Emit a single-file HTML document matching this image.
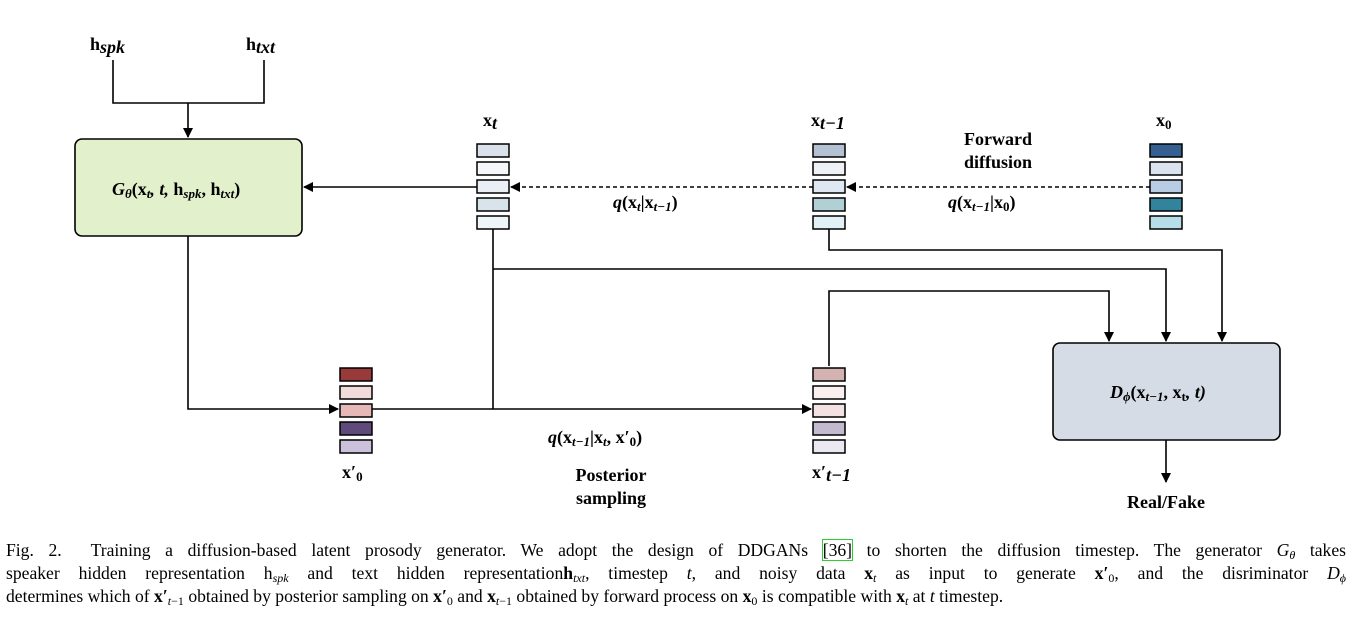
<!DOCTYPE html>
<html><head><meta charset="utf-8"><style>
html,body{margin:0;padding:0;background:#fff;}
body{position:relative;width:1352px;height:619px;overflow:hidden;}
svg{display:block;position:absolute;left:0;top:0;}
.b{font-family:"Liberation Serif",serif;font-weight:bold;font-size:18px;fill:#000;}
.bi{font-family:"Liberation Serif",serif;font-weight:bold;font-style:italic;font-size:18px;fill:#000;}
.cl{position:absolute;left:6px;width:1340px;font-family:"Liberation Serif",serif;font-size:17.6px;line-height:20px;white-space:nowrap;}
.j{text-align:justify;text-align-last:justify;white-space:normal;}
sub{font-size:12px;vertical-align:-3px;line-height:0;}
.ref{outline:1px solid #2ecc2e;}
</style></head><body>
<svg width="1352" height="619" viewBox="0 0 1352 619" xmlns="http://www.w3.org/2000/svg">
<defs>
<marker id="a" markerWidth="10" markerHeight="10" refX="9" refY="5" orient="auto" markerUnits="userSpaceOnUse">
<path d="M0,0 L10,5 L0,10 z" fill="#000"/></marker>
</defs>
<g stroke="#000" stroke-width="1.6" fill="none">
<path d="M113,60 V103 H264 V60"/>
<path d="M188,103 V137" marker-end="url(#a)"/>
<path d="M477,187 H304" marker-end="url(#a)"/>
<path d="M1150,187 H847" stroke-dasharray="4,3" marker-end="url(#a)"/>
<path d="M813,187 H511" stroke-dasharray="4,3" marker-end="url(#a)"/>
<path d="M829,229 V250 H1222 V341" marker-end="url(#a)"/>
<path d="M493,229 V409"/>
<path d="M493,269 H1166 V341" marker-end="url(#a)"/>
<path d="M829,366 V291 H1109 V341" marker-end="url(#a)"/>
<path d="M188,236 V409 H338" marker-end="url(#a)"/>
<path d="M372,409 H811" marker-end="url(#a)"/>
<path d="M1166,440 V482" marker-end="url(#a)"/>
</g>
<rect x="75" y="139" width="227" height="97" rx="7" fill="#e2f0cb" stroke="#000" stroke-width="1.6"/>
<rect x="1053" y="343" width="227" height="97" rx="7" fill="#d6dce5" stroke="#000" stroke-width="1.6"/>
<g stroke="#000" stroke-width="1.5">
<rect x="477" y="144" width="32" height="13" fill="#dae1ea"/>
<rect x="477" y="162" width="32" height="13" fill="#f5f7fa"/>
<rect x="477" y="180" width="32" height="13" fill="#eaeff6"/>
<rect x="477" y="198" width="32" height="13" fill="#d8e4ea"/>
<rect x="477" y="216" width="32" height="13" fill="#eef6f9"/>
<rect x="813" y="144" width="32" height="13" fill="#b4c1d2"/>
<rect x="813" y="162" width="32" height="13" fill="#eef2f7"/>
<rect x="813" y="180" width="32" height="13" fill="#dfe7f2"/>
<rect x="813" y="198" width="32" height="13" fill="#b1d0d6"/>
<rect x="813" y="216" width="32" height="13" fill="#e1f1f5"/>
<rect x="1150" y="144" width="32" height="13" fill="#365f91"/>
<rect x="1150" y="162" width="32" height="13" fill="#dae3ee"/>
<rect x="1150" y="180" width="32" height="13" fill="#b8cce4"/>
<rect x="1150" y="198" width="32" height="13" fill="#31849b"/>
<rect x="1150" y="216" width="32" height="13" fill="#b7dee8"/>
<rect x="340" y="368" width="32" height="13" fill="#983a3a"/>
<rect x="340" y="386" width="32" height="13" fill="#f2dcdb"/>
<rect x="340" y="404" width="32" height="13" fill="#e6b9b8"/>
<rect x="340" y="422" width="32" height="13" fill="#604a7b"/>
<rect x="340" y="440" width="32" height="13" fill="#ccc1da"/>
<rect x="813" y="368" width="32" height="13" fill="#d4b2b1"/>
<rect x="813" y="386" width="32" height="13" fill="#faf0f0"/>
<rect x="813" y="404" width="32" height="13" fill="#f4e2e2"/>
<rect x="813" y="422" width="32" height="13" fill="#c3bacf"/>
<rect x="813" y="440" width="32" height="13" fill="#ebe8f1"/>
</g>
<text x="90" y="50" class="b">h<tspan class="bi" font-size="13" dy="3">spk</tspan></text>
<text x="246" y="50" class="b">h<tspan class="bi" font-size="13" dy="3">txt</tspan></text>
<text x="483" y="126" class="b">x<tspan class="bi" font-size="13" dy="3">t</tspan></text>
<text x="811" y="126" class="b">x<tspan class="bi" font-size="13" dy="3">t−1</tspan></text>
<text x="1156" y="126" class="b">x<tspan font-size="13" dy="3">0</tspan></text>
<text x="998" y="145" class="b" text-anchor="middle">Forward</text>
<text x="998" y="168" class="b" text-anchor="middle">diffusion</text>
<text x="112" y="195" class="bi">G<tspan font-size="13" dy="3">θ</tspan><tspan dy="-3" font-style="normal">(x</tspan><tspan font-size="13" dy="3">t</tspan><tspan dy="-3">, t, </tspan><tspan font-style="normal">h</tspan><tspan font-size="13" dy="3">spk</tspan><tspan dy="-3" font-style="normal">, h</tspan><tspan font-size="13" dy="3">txt</tspan><tspan dy="-3" font-style="normal">)</tspan></text>
<text x="613" y="208" class="bi">q<tspan font-style="normal">(x</tspan><tspan font-size="13" dy="3">t</tspan><tspan dy="-3" font-style="normal">|x</tspan><tspan font-size="13" dy="3">t−1</tspan><tspan dy="-3" font-style="normal">)</tspan></text>
<text x="948" y="208" class="bi">q<tspan font-style="normal">(x</tspan><tspan font-size="13" dy="3">t−1</tspan><tspan dy="-3" font-style="normal">|x</tspan><tspan font-size="13" dy="3" font-style="normal">0</tspan><tspan dy="-3" font-style="normal">)</tspan></text>
<text x="1110" y="398" class="bi">D<tspan font-size="13" dy="3">ϕ</tspan><tspan dy="-3" font-style="normal">(x</tspan><tspan font-size="13" dy="3">t−1</tspan><tspan dy="-3" font-style="normal">, x</tspan><tspan font-size="13" dy="3" font-style="normal">t</tspan><tspan dy="-3">, t)</tspan></text>
<text x="548" y="443" class="bi">q<tspan font-style="normal">(x</tspan><tspan font-size="13" dy="3">t−1</tspan><tspan dy="-3" font-style="normal">|x</tspan><tspan font-size="13" dy="3">t</tspan><tspan dy="-3" font-style="normal">, x′</tspan><tspan font-size="13" dy="3" font-style="normal">0</tspan><tspan dy="-3" font-style="normal">)</tspan></text>
<text x="611" y="481" class="b" text-anchor="middle">Posterior</text>
<text x="611" y="504" class="b" text-anchor="middle">sampling</text>
<text x="342" y="478" class="b">x′<tspan font-size="13" dy="3">0</tspan></text>
<text x="812" y="478" class="b">x′<tspan class="bi" font-size="13" dy="3">t−1</tspan></text>
<text x="1166" y="508" class="b" text-anchor="middle">Real/Fake</text>
</svg>
<div class="cl j" style="top:540px;">Fig. 2.&nbsp; Training a diffusion-based latent prosody generator. We adopt the design of DDGANs <span class="ref">[36]</span> to shorten the diffusion timestep. The generator <i>G</i><sub><i>θ</i></sub> takes</div>
<div class="cl j" style="top:563px;">speaker hidden representation h<sub><i>spk</i></sub> and text hidden representation<b>h</b><sub><i>txt</i></sub>, timestep <i>t</i>, and noisy data <b>x</b><sub><i>t</i></sub> as input to generate <b>x′</b><sub>0</sub>, and the disriminator <i>D</i><sub><i>ϕ</i></sub></div>
<div class="cl" style="top:586px;">determines which of <b>x′</b><sub><i>t</i>−1</sub> obtained by posterior sampling on <b>x′</b><sub>0</sub> and <b>x</b><sub><i>t</i>−1</sub> obtained by forward process on <b>x</b><sub>0</sub> is compatible with <b>x</b><sub><i>t</i></sub> at <i>t</i> timestep.</div>
</body></html>
